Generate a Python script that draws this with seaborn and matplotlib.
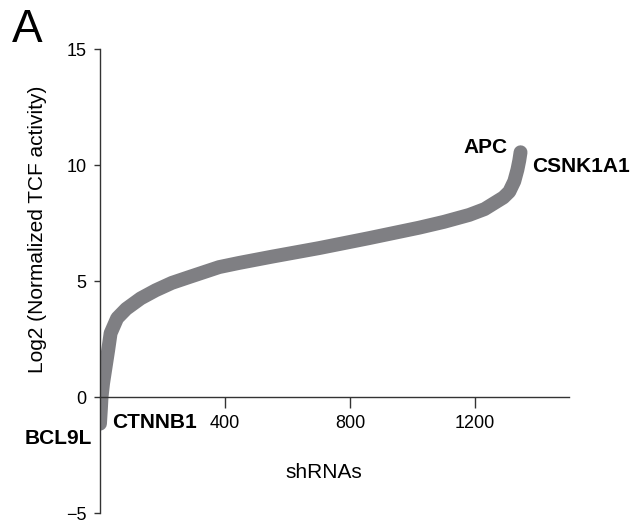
import matplotlib
matplotlib.use("Agg")
import matplotlib.pyplot as plt
import seaborn as sns
import pandas as pd

# ranked shRNAs
rank = [0, 3, 5, 10, 18, 26, 34, 55, 84, 130, 178, 230, 285, 381, 445, 550,
        701, 861, 1021, 1100, 1181, 1230, 1266, 1290, 1309, 1325, 1335, 1341, 1345]
log2_tcf = [-1.15, -0.5, 0.0, 0.6, 1.3, 2.0, 2.75, 3.4, 3.8, 4.25, 4.6, 4.92, 5.17,
            5.6, 5.78, 6.05, 6.42, 6.85, 7.3, 7.55, 7.85, 8.1, 8.4, 8.6, 8.85,
            9.3, 9.8, 10.2, 10.55]

x_ticks = [400, 800, 1200]
y_ticks = [-5, 0, 5, 10, 15]

# gene labels: name, x, y, horizontal alignment
genes = ["APC", "CSNK1A1", "CTNNB1", "BCL9L"]
gene_x = [1305, 1382, 38, -26]
gene_y = [10.75, 9.95, -1.08, -1.78]
gene_ha = ["right", "left", "left", "right"]

df = pd.DataFrame({"rank": rank, "log2": log2_tcf})

sns.set_style("ticks")
plt.rcParams["font.family"] = ["Liberation Sans", "DejaVu Sans"]
plt.rcParams["text.color"] = "black"
plt.rcParams["axes.labelcolor"] = "black"
plt.rcParams["xtick.color"] = "black"
plt.rcParams["ytick.color"] = "black"

fig = plt.figure(figsize=(6.34, 5.22), dpi=100)
ax = fig.add_axes([0.1577, 0.0172, 0.7398, 0.8889])

sns.lineplot(data=df, x="rank", y="log2", color="#7f7f83", linewidth=10,
             solid_capstyle="round", solid_joinstyle="round", ax=ax)

ax.set_xlim(0, 1500)
ax.set_ylim(-5, 15)
ax.set_xticks(x_ticks)
ax.set_yticks(y_ticks)
ax.set_yticklabels(["\u22125", "0", "5", "10", "15"])

for s in ["top", "right"]:
    ax.spines[s].set_visible(False)
ax.spines["bottom"].set_position(("data", 0))
for s in ["left", "bottom"]:
    ax.spines[s].set_color("#333333")
    ax.spines[s].set_linewidth(1.0)

ax.tick_params(axis="x", length=8, width=1, color="#333333", pad=5, labelsize=13)
ax.tick_params(axis="y", length=4.5, width=1, color="#333333", pad=5, labelsize=13)

ax.set_xlabel("shRNAs", fontsize=15)
ax.xaxis.label.set_va("center")
ax.xaxis.set_label_coords(0.477, 0.088)
ax.set_ylabel("Log2 (Normalized TCF activity)", fontsize=15)
ax.yaxis.label.set_va("center")
ax.yaxis.set_label_coords(-0.134, 0.612)

for name, gx, gy, ha in zip(genes, gene_x, gene_y, gene_ha):
    ax.text(gx, gy, name, ha=ha, va="center", fontsize=15, fontweight="bold",
            clip_on=False)

fig.text(0.018, 0.943, "A", fontsize=33, ha="left", va="center")

fig.savefig("out.png", dpi=100)
